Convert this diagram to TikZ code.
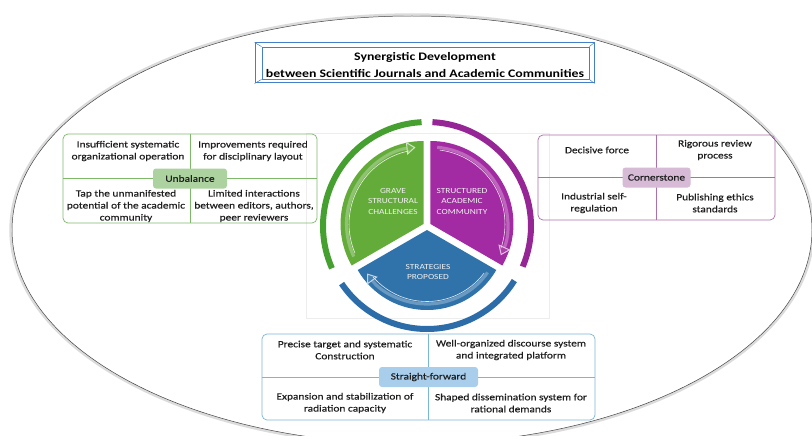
\documentclass[tikz,border=0pt]{standalone}
\usepackage{fontspec}
\setmainfont{Carlito}[FakeStretch=1.2]
\newfontfamily\cellfont{Carlito}[FakeStretch=1.2,FakeBold=0.35]
\usetikzlibrary{arrows.meta,calc}
\definecolor{gsec}{RGB}{100,172,58}
\definecolor{gring}{RGB}{70,160,48}
\definecolor{psec}{RGB}{162,42,162}
\definecolor{pring}{RGB}{150,38,150}
\definecolor{bsec}{RGB}{48,114,170}
\definecolor{bring}{RGB}{44,108,168}
\definecolor{gline}{RGB}{125,185,105}
\definecolor{glab}{RGB}{172,210,160}
\definecolor{pline}{RGB}{172,112,172}
\definecolor{plab}{RGB}{214,186,214}
\definecolor{bline}{RGB}{122,182,214}
\definecolor{blab}{RGB}{168,206,236}
\definecolor{tblue}{RGB}{68,128,200}
\definecolor{txt}{RGB}{30,30,30}
\tikzset{
  cell/.style={align=center,text=txt,font=\cellfont\fontsize{9.5}{12}\selectfont,inner sep=0pt},
  boxframe/.style={draw,rounded corners=5pt,line width=0.7pt,inner sep=0pt},
  lab/.style={rounded corners=3pt,text=txt,font=\cellfont\fontsize{9.5}{11}\selectfont,inner sep=0pt},
  sectxt/.style={align=center,text=white!94!black,font=\fontsize{7.8}{10.5}\selectfont,inner sep=0pt},
  ringarc/.style={line width=6pt},
  inband/.style={line width=3.2pt,draw=#1!72!white,-{Triangle[length=9pt,width=13pt,fill=#1!90!white,color=white!70!#1,line width=1pt]}},
  inline/.style={line width=0.6pt,draw=white!85!#1}
}
\begin{document}
\begin{tikzpicture}[x=1pt,y=1pt]
\useasboundingbox[fill=white] (0,0) rectangle (812,-436);
% outer ellipse
\draw[black!14,line width=2.4pt] (412,-230) ellipse [x radius=401.5,y radius=215.5];
\draw[black!75,line width=0.5pt] (412,-230) ellipse [x radius=400,y radius=214];
% faint image frame
\draw[black!7,line width=0.5pt] (306,-133) rectangle (549,-318);
% title
\node[draw=tblue,line width=1pt,minimum width=339pt,minimum height=40pt,inner sep=0pt] (tout) at (424.5,-63) {};
\node[draw=tblue,line width=0.8pt,minimum width=327pt,minimum height=32pt,inner sep=0pt] (tin) at (425.5,-63) {};
\draw[tblue,line width=0.5pt] (tout.north west)--(tin.north west) (tout.north east)--(tin.north east)
  (tout.south west)--(tin.south west) (tout.south east)--(tin.south east);
\node[align=center,font=\fontsize{11.5}{16.5}\selectfont\bfseries,text=black] (title) at (425,-65)
  {Synergistic Development\\between Scientific Journals and Academic Communities};
% left box
\node[boxframe,draw=gline,minimum width=254pt,minimum height=89pt] (lbox) at (190,-178.5) {};
\draw[gline,line width=0.7pt] (lbox.north)--(lbox.south) (lbox.west)--(lbox.east);
\node[lab,fill=glab,minimum width=74pt,minimum height=20pt] (lunb) at (lbox.center) {Unbalance};
\node[cell] (l1) at (128,-151) {Insufficient systematic\\organizational operation};
\node[cell] (l2) at (253,-151) {Improvements required\\for disciplinary layout};
\node[cell] (l3) at (126,-206) {Tap the unmanifested\\potential of the academic\\community};
\node[cell] (l4) at (254,-206) {Limited interactions\\between editors, authors,\\peer reviewers};
% right box
\node[boxframe,draw=pline,minimum width=237pt,minimum height=85pt] (rbox) at (656.5,-177.5) {};
\draw[pline,line width=0.7pt] (rbox.north)--(rbox.south) (rbox.west)--(rbox.east);
\node[lab,fill=plab,minimum width=68pt,minimum height=20pt] (rcor) at (rbox.center) {Cornerstone};
\node[cell] (r1) at (597,-150) {Decisive force};
\node[cell] (r2) at (715,-150) {Rigorous review\\process};
\node[cell] (r3) at (594,-203) {Industrial self-\\regulation};
\node[cell] (r4) at (715,-203) {Publishing ethics\\standards};
% bottom box
\node[boxframe,draw=bline,minimum width=333pt,minimum height=86pt] (bbox) at (428.5,-377) {};
\draw[bline,line width=0.7pt] (bbox.north)--(bbox.south) (bbox.west)--(bbox.east);
\node[lab,fill=blab,minimum width=99pt,minimum height=20pt] (bstr) at (bbox.center) {Straight-forward};
\node[cell] (b1) at (345,-350) {Precise target and systematic\\Construction};
\node[cell] (b2) at (511,-350) {Well-organized discourse system\\and integrated platform};
\node[cell] (b3) at (345,-403) {Expansion and stabilization of\\radiation capacity};
\node[cell] (b4) at (511,-403) {Shaped dissemination system for\\rational demands};
% central cycle
\coordinate (C) at (427,-226);
\coordinate (Cg) at ($(C)+(150:4)$);
\coordinate (Cp) at ($(C)+(30:4)$);
\coordinate (Cb) at ($(C)+(-90:4)$);
\fill[gsec] (Cg) -- ++(90:83) arc[start angle=90,end angle=210,radius=83] -- cycle;
\fill[psec] (Cp) -- ++(90:83) arc[start angle=90,end angle=-30,radius=83] -- cycle;
\fill[bsec] (Cb) -- ++(-30:80) arc[start angle=-30,end angle=-150,radius=80] -- cycle;
% inner arrows
\draw[inband=gsec] (Cg) ++(205:77) arc[start angle=205,end angle=96,radius=77];
\draw[inline=gsec] (Cg) ++(203:74.5) arc[start angle=203,end angle=101,radius=74.5];
\draw[inband=psec] (Cp) ++(85:77) arc[start angle=85,end angle=-24,radius=77];
\draw[inline=psec] (Cp) ++(83:74.5) arc[start angle=83,end angle=-19,radius=74.5];
\draw[inband=bsec] (Cb) ++(-35:74) arc[start angle=-35,end angle=-144,radius=74];
\draw[inline=bsec] (Cb) ++(-37:71.5) arc[start angle=-37,end angle=-139,radius=71.5];
% outer ring
\draw[ringarc,gring] (C) ++(204:104) arc[start angle=204,end angle=93,radius=104];
\draw[ringarc,pring] (C) ++(87:104) arc[start angle=87,end angle=-23,radius=104];
\draw[ringarc,bring] (C) ++(-32:103) arc[start angle=-32,end angle=-146,radius=103];
% sector texts
\node[sectxt] (sg) at (393,-201) {GRAVE\\STRUCTURAL\\CHALLENGES};
\node[sectxt] (sp) at (462,-201) {STRUCTURED\\ACADEMIC\\COMMUNITY};
\node[sectxt] (sb) at (428,-272) {STRATEGIES\\PROPOSED};
\end{tikzpicture}
\end{document}
